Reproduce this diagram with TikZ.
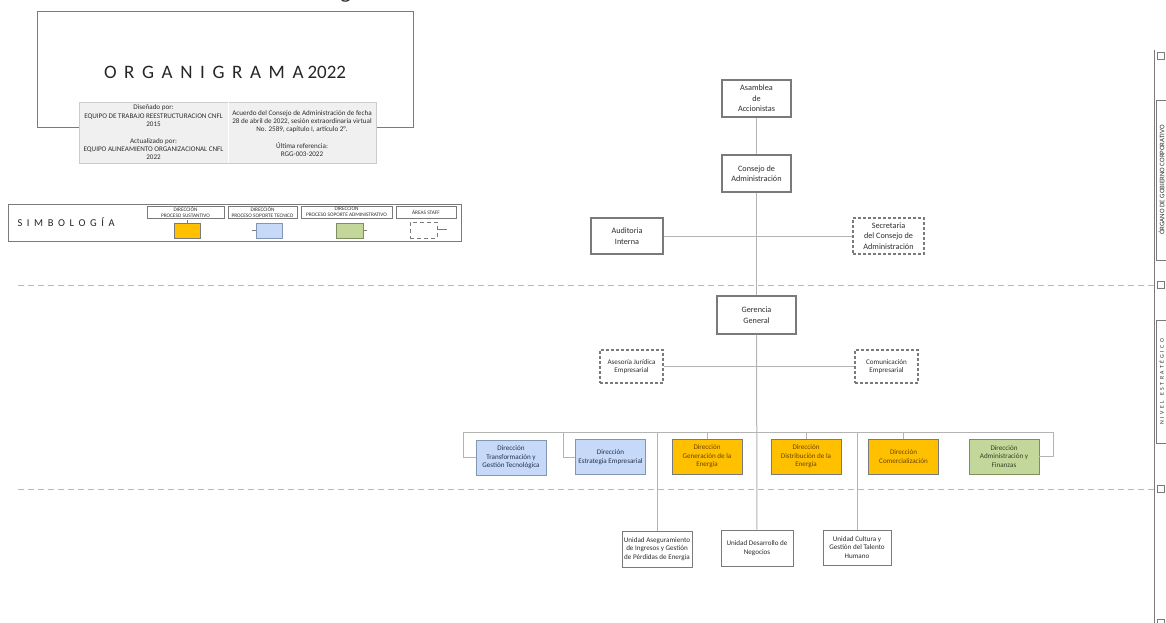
\documentclass[tikz,border=0pt]{standalone}
\usepackage{fontspec}
\setmainfont{Carlito}
\newcommand{\tsp}{\hspace{7.6pt}}
\begin{document}
\begin{tikzpicture}[x=1pt,y=-1pt,
  conn/.style={draw=lineg, line width=1pt},
  box/.style={draw=boxg, line width=1.1pt, fill=white, align=center, text=txt, inner sep=1pt},
  bigtxt/.style={font=\fontsize{8.2}{10.5}\selectfont},
  smalltxt/.style={font=\fontsize{7.1}{8.6}\selectfont},
  staff/.style={box, dashed, dash pattern=on 3pt off 2pt},
  dirbox/.style={draw=boxg, line width=0.9pt, align=center, inner sep=1pt, smalltxt, minimum width=70, minimum height=35},
  orangebox/.style={dirbox, fill=orangef, text=orangetx},
  bluebox/.style={dirbox, fill=bluef, draw=blueb, text=bluetx},
  greenbox/.style={dirbox, fill=greenf, draw=greenb, text=greentx},
  sep/.style={draw=sepg, line width=1pt, dash pattern=on 6pt off 4pt},
  sqmark/.style={draw=boxg, line width=0.8pt, fill=white, minimum size=7, inner sep=0pt},
  legh/.style={draw=boxg, line width=0.7pt, align=center, text=txt, inner sep=0pt, font=\fontsize{5.3}{6}\selectfont},
  info/.style={align=center, text=txt, font=\fontsize{7.1}{8.1}\selectfont, inner sep=0pt},
  sidelab/.style={draw=boxg, line width=0.8pt, rotate=90, text=txt, inner sep=0pt}
]
\definecolor{lineg}{HTML}{B4B4B4}
\definecolor{boxg}{HTML}{7A7A7A}
\definecolor{sepg}{HTML}{B8B8B8}
\definecolor{txt}{HTML}{2E2E2E}
\definecolor{orangef}{HTML}{FFC000}
\definecolor{orangetx}{HTML}{6B4500}
\definecolor{bluef}{HTML}{C6D9F8}
\definecolor{blueb}{HTML}{8497B0}
\definecolor{bluetx}{HTML}{26324D}
\definecolor{greenf}{HTML}{C4D79B}
\definecolor{greenb}{HTML}{7F8F5F}
\definecolor{greentx}{HTML}{333F26}
\definecolor{infof}{HTML}{F0F0F0}

\useasboundingbox (0,0) rectangle (1166,623);
\fill[white] (0,0) rectangle (1166,623);

% partial glyph at the top
\node[text=txt, font=\fontsize{22}{22}\selectfont\itshape, anchor=base] (gfrag) at (347,-1) {g};

% title block
\node[draw=boxg, line width=1pt, minimum width=376, minimum height=115, inner sep=0pt] (title) at (225,69.5) {};
\node[text=black!85, font=\fontsize{19}{19}\selectfont] (titletxt) at (225,72) {O\tsp R\tsp G\tsp A\tsp N\tsp I\tsp G\tsp R\tsp A\tsp M\tsp A\hspace{4pt}2022};
\node[fill=infof, draw=infof!85!black, line width=0.5pt, minimum width=297, minimum height=61, inner sep=0pt] (infobox) at (227.5,132.5) {};
\draw[draw=white, line width=1pt] (228,102) -- (228,163);
\node[info] (infoL) at (153.5,132.5) {Diseñado por:\\EQUIPO DE TRABAJO REESTRUCTURACION CNFL\\2015\\[9.5pt]Actualizado por:\\EQUIPO ALINEAMIENTO ORGANIZACIONAL CNFL\\2022};
\node[info] (infoR) at (302,133.5) {Acuerdo del Consejo de Administración de fecha\\28 de abril de 2022, sesión extraordinaria virtual\\No. 2589, capítulo I, artículo 2°.\\[8pt]Última referencia:\\RGG-003-2022};

% legend
\node[draw=boxg, line width=1pt, minimum width=453, minimum height=37, inner sep=0pt] (legend) at (234.5,222.5) {};
\node[text=black!85, font=\fontsize{10.5}{10.5}\selectfont, anchor=west] (simb) at (14,222) {S\hspace{4.6pt}I\hspace{4.6pt}M\hspace{4.6pt}B\hspace{4.6pt}O\hspace{4.6pt}L\hspace{4.6pt}O\hspace{4.6pt}G\hspace{4.6pt}Í\hspace{4.6pt}A};
\node[legh, minimum width=77, minimum height=12] (lh1) at (185.5,212) {DIRECCIÓN\\PROCESO SUSTANTIVO};
\node[legh, minimum width=69, minimum height=12] (lh2) at (262.5,212) {DIRECCIÓN\\PROCESO SOPORTE TECNICO};
\node[legh, minimum width=91, minimum height=12] (lh3) at (346.5,212) {DIRECCION\\PROCESO SOPORTE ADMINISTRATIVO};
\node[legh, minimum width=60, minimum height=12] (lh4) at (426,212) {ÁREAS STAFF};
\node[draw=boxg, line width=0.7pt, fill=orangef, minimum width=26, minimum height=15, inner sep=0pt] (sw1) at (187,230.5) {};
\node[draw=blueb, line width=0.7pt, fill=bluef, minimum width=26, minimum height=15, inner sep=0pt] (sw2) at (269,230.5) {};
\node[draw=greenb, line width=0.7pt, fill=greenf, minimum width=27, minimum height=15, inner sep=0pt] (sw3) at (349.5,230.5) {};
\node[draw=boxg, line width=0.7pt, dashed, dash pattern=on 4pt off 3pt, minimum width=27, minimum height=16, inner sep=0pt] (sw4) at (423.5,230) {};
\draw[draw=boxg, line width=0.5pt] (sw1.north) -- ++(0,-3);
\draw[draw=boxg, line width=0.5pt] (sw2.west) -- ++(-4,0);
\draw[draw=boxg, line width=0.5pt] (sw3.east) -- ++(4,0);
\draw[draw=boxg, line width=0.5pt] (sw4.east) ++(0,-1) -- ++(10,0);

% right side
\coordinate (vtop) at (1154,50);
\coordinate (vbot) at (1154,623);
\draw[draw=boxg, line width=0.8pt] (vtop) -- (vbot);
\node[sqmark] (m1) at (1161,56) {};
\node[sqmark] (m2) at (1161,285) {};
\node[sqmark] (m3) at (1161,489) {};
\node[sqmark] (m4) at (1161,623) {};
\node[sidelab, font=\fontsize{6.9}{7}\selectfont, minimum width=160, minimum height=9.5] (lab1) at (1161.5,180) {ÓRGANO DE GOBIERNO CORPORATIVO};
\node[sidelab, font=\fontsize{5.8}{6}\selectfont, minimum width=123, minimum height=9.5] (lab2) at (1161.5,381.5) {N\hspace{2.4pt}I\hspace{2.4pt}V\hspace{2.4pt}E\hspace{2.4pt}L\hspace{5.5pt}E\hspace{2.4pt}S\hspace{2.4pt}T\hspace{2.4pt}R\hspace{2.4pt}A\hspace{2.4pt}T\hspace{2.4pt}É\hspace{2.4pt}G\hspace{2.4pt}I\hspace{2.4pt}C\hspace{2.4pt}O};

% separators
\coordinate (s1) at (18,285);
\coordinate (s2) at (18,489);
\draw[sep] (s1) -- (m2.west);
\draw[sep] (s2) -- (m3.west);

% governance nodes
\node[box, bigtxt, minimum width=69, minimum height=37] (asam) at (756.5,98.5) {Asamblea\\de\\Accionistas};
\node[box, bigtxt, minimum width=69, minimum height=37] (cons) at (756.5,173.5) {Consejo de\\Administración};
\node[box, bigtxt, minimum width=72, minimum height=36] (aud) at (627,236) {Auditoria\\Interna};
\node[staff, bigtxt, minimum width=71, minimum height=36] (sec) at (888.5,236) {Secretaria\\del Consejo de\\Administración};
\node[box, bigtxt, minimum width=79, minimum height=38] (ger) at (756.5,315) {Gerencia\\General};
\node[staff, smalltxt, minimum width=63, minimum height=33] (ase) at (631.5,366.5) {Asesoría Jurídica\\Empresarial};
\node[staff, smalltxt, minimum width=63, minimum height=33] (com) at (886.5,366.5) {Comunicación\\Empresarial};

% directions
\node[bluebox] (dtra) at (511,457.5) {Dirección\\Transformación y\\Gestión Tecnológica};
\node[bluebox] (dest) at (610.5,457) {Dirección\\Estrategia Empresarial};
\node[orangebox] (dgen) at (707,456.5) {Dirección\\Generación de la\\Energía};
\node[orangebox] (ddis) at (806,456.5) {Dirección\\Distribución de la\\Energía};
\node[orangebox] (dcom) at (903.5,456.5) {Dirección\\Comercialización};
\node[greenbox] (dadm) at (1004,456.5) {Dirección\\Administración y\\Finanzas};

% units
\node[box, line width=0.9pt, smalltxt, minimum width=70, minimum height=36] (uase) at (657,549) {Unidad Aseguramiento\\de Ingresos y Gestión\\de Pérdidas de Energía};
\node[box, line width=0.9pt, smalltxt, minimum width=72, minimum height=36] (udes) at (757,548) {Unidad Desarrollo de\\Negocios};
\node[box, line width=0.9pt, smalltxt, minimum width=68, minimum height=35] (ucul) at (857,547.5) {Unidad Cultura y\\Gestión del Talento\\Humano};

% connectors
\coordinate (bL) at (463,432);
\coordinate (b2) at (563,432);
\coordinate (bR) at (1053,432);
\draw[conn] (asam) -- (cons);
\draw[conn] (aud) -- (sec);
\draw[conn] (ase) -- (com);
\draw[conn] (cons) -- (ger);
\draw[conn] (ger) -- (udes);
\draw[conn] (dtra.west) -| (bL) -- (bR) |- (dadm.east);
\draw[conn] (dest.west) -| (b2);
\draw[conn] (dgen.north) -- (dgen.north|-bL);
\draw[conn] (ddis.north) -- (ddis.north|-bL);
\draw[conn] (dcom.north) -- (dcom.north|-bL);
\draw[conn] (uase.north) -- (uase.north|-bL);
\draw[conn] (ucul.north) -- (ucul.north|-bL);
\end{tikzpicture}
\end{document}
